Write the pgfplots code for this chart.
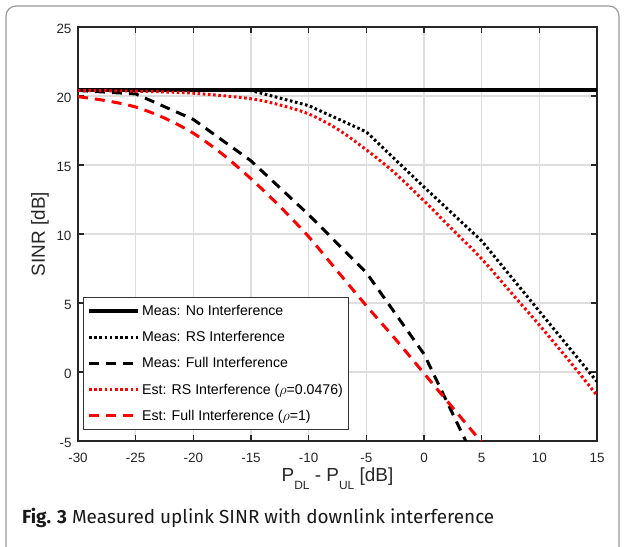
\documentclass[border=0pt]{standalone}
\usepackage{fontspec}
\setmainfont{Liberation Sans}
\newfontfamily\capfont{Fira Sans}
\usepackage{pgfplots}
\pgfplotsset{compat=1.18}
\definecolor{axgray}{RGB}{38,38,38}
\definecolor{gridgray}{RGB}{222,222,222}
\newcommand{\sub}[1]{\raisebox{-7.5bp}{\fontsize{12}{12}\selectfont #1}}
\begin{document}
\begin{tikzpicture}[x=1bp,y=1bp]
\useasboundingbox (0,0) rectangle (624,547);
\draw[gray!80, line width=1.2bp, rounded corners=10bp] (6,-30) rectangle (619,541);
\begin{axis}[at={(78bp,106bp)}, anchor=south west, scale only axis,
 width=519bp, height=414bp,
 xmin=-30, xmax=15, ymin=-5, ymax=25,
 xtick={-30,-25,...,15}, ytick={-5,0,...,25},
 grid=major, grid style={line width=1.3bp, gridgray},
 axis line style={line width=1.6bp, axgray},
 tick style={line width=1.3bp, axgray}, major tick length=6bp,
 tick align=inside,
 ticklabel style={font=\fontsize{13.5}{15}\selectfont, text=axgray},
 xticklabel style={yshift=-9bp},
 yticklabel style={xshift=-3bp, yshift=-2bp},
 /pgf/number format/assume math mode=true,
 xlabel={P\sub{DL} - P\sub{UL} [dB]},
 ylabel={SINR [dB]},
 label style={font=\fontsize{19}{21}\selectfont, text=axgray},
 xlabel style={at={(axis description cs:0.5,-0.0985)}, anchor=base},
 ylabel style={at={(axis description cs:-0.0636,0.5)}, rotate=0, anchor=base},
 legend style={at={(0.009,0.026)}, anchor=south west, draw=black!80, line width=0.8bp,
   font=\fontsize{14.2}{16}\selectfont, row sep=10.5bp, inner xsep=4bp, inner ysep=6bp},
 legend cell align=left,
 legend image code/.code={\draw[#1] (0bp,0bp) -- (49bp,0bp);},
]
\addplot[black, line width=4bp] coordinates {(-30,20.4)(-25,20.4)(-20,20.4)(-15,20.4)(-10,20.4)(-5,20.4)(0,20.4)(5,20.4)(10,20.4)(15,20.4)};
\addlegendentry{Meas: No Interference}
\addplot[black, line width=3bp, dash pattern=on 2.6bp off 2.6bp] coordinates {(-30,20.4)(-25,20.4)(-20,20.4)(-15,20.4)(-10,19.3)(-5,17.4)(0,13.4)(5,9.5)(10,4.4)(15,-0.7)};
\addlegendentry{Meas: RS Interference}
\addplot[black, line width=3bp, dash pattern=on 10bp off 7bp] coordinates {(-30,20.4)(-25,20.15)(-20,18.3)(-15,15.3)(-10,11.4)(-5,7.2)(0,1.3)(5,-7.4)};
\addlegendentry{Meas: Full Interference}
\addplot[red, line width=3bp, dash pattern=on 2.6bp off 2.6bp, smooth] coordinates {(-30,20.4)(-25,20.35)(-20,20.2)(-15,19.8)(-12.5,19.35)(-10,18.7)(-7.5,17.6)(-5,16.1)(-2.5,14.4)(0,12.4)(2.5,10.3)(5,8.2)(7.5,5.8)(10,3.4)(12.5,0.9)(15,-1.7)};
\addlegendentry{Est: RS Interference ($\rho$=0.0476)}
\addplot[red, line width=3bp, dash pattern=on 10bp off 7bp, smooth] coordinates {(-30,19.95)(-27.5,19.65)(-25,19.2)(-22.5,18.4)(-20,17.3)(-17.5,15.8)(-15,14.0)(-12.5,12.0)(-10,9.8)(-7.5,7.3)(-5,4.8)(-2.5,2.4)(0,-0.1)(2.5,-2.6)(5,-5.1)};
\addlegendentry{Est: Full Interference ($\rho$=1)}
\end{axis}
\node[anchor=base west, font=\capfont\fontsize{19}{21}\selectfont, text=black!90, inner sep=0pt] at (22,23.7) {\textbf{Fig. 3} Measured uplink SINR with downlink interference};
\end{tikzpicture}
\end{document}
